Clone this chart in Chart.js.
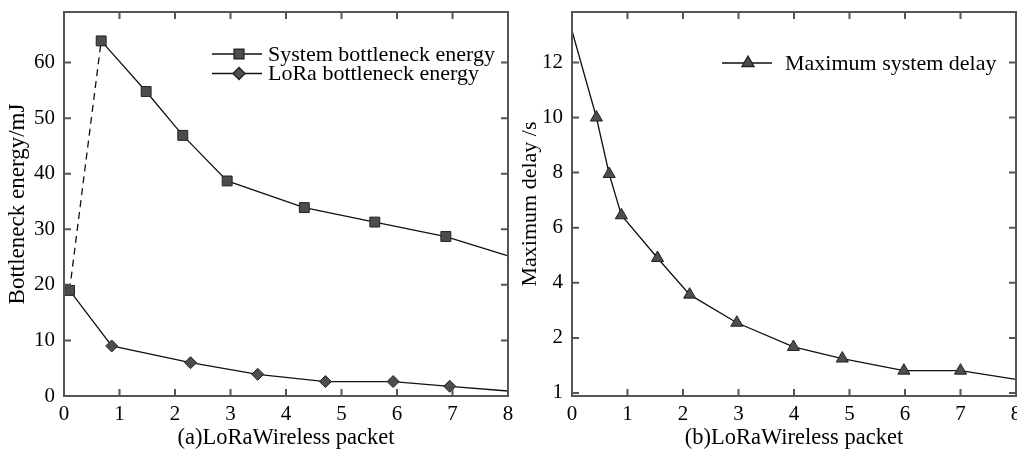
<!DOCTYPE html>
<html>
<head>
<meta charset="utf-8">
<script src="https://cdn.jsdelivr.net/npm/chart.js@4.4.1/dist/chart.umd.min.js"></script>
<style>
  html, body { margin: 0; padding: 0; background: #fff; }
  #wrap { position: relative; width: 1017px; height: 449px; overflow: hidden; }
  .box { position: absolute; top: 0; height: 449px; }
  #boxA { left: 0; width: 522px; }
  #boxB { left: 510px; width: 507px; }
</style>
</head>
<body>
<div id="wrap">
  <div class="box" id="boxA"><canvas id="chartA"></canvas></div>
  <div class="box" id="boxB"><canvas id="chartB"></canvas></div>
</div>
<script>
// (a) bottleneck energy
const packetSystem = [0.1, 0.67, 1.48, 2.14, 2.94, 4.33, 5.6, 6.88, 8];
const systemEnergy = [19, 63.9, 54.8, 46.9, 38.7, 33.9, 31.3, 28.7, 25.2];
const packetLoRa = [0.1, 0.86, 2.28, 3.49, 4.71, 5.93, 6.95, 8];
const loraEnergy = [19, 9.0, 6.0, 3.9, 2.6, 2.6, 1.75, 0.9];

// (b) maximum delay
const packetDelay = [0, 0.44, 0.67, 0.89, 1.54, 2.12, 2.97, 3.99, 4.87, 5.98, 7.0, 8];
const maxDelay = [13.15, 10.0, 7.95, 6.45, 4.9, 3.57, 2.55, 1.67, 1.25, 0.81, 0.81, 0.49];

const xTicks = [0, 1, 2, 3, 4, 5, 6, 7, 8];
const yTicksA = [0, 10, 20, 30, 40, 50, 60];
const yTicksB = [0, 2, 4, 6, 8, 10, 12];
const yLabelsB = ['1', '2', '4', '6', '8', '10', '12'];

const FONT = 'Liberation Serif';
const INK = '#111';
const MARK = '#4d4d4d';
const FRAME = '#555';

const toPoints = (xs, ys) => xs.map((x, i) => ({ x: x, y: ys[i] }));

// box around the plot with small inward ticks on every side
const framePlugin = {
    id: 'frame',
    afterDraw(chart) {
        const { ctx, chartArea: a, scales } = chart;
        const len = 7;
        ctx.save();
        ctx.strokeStyle = FRAME;
        ctx.lineWidth = 2;
        ctx.strokeRect(a.left, a.top, a.right - a.left, a.bottom - a.top);
        ctx.beginPath();
        scales.x.ticks.forEach(t => {
            const px = scales.x.getPixelForValue(t.value);
            if (px <= a.left + 1 || px >= a.right - 1) return;
            ctx.moveTo(px, a.bottom); ctx.lineTo(px, a.bottom - len);
            ctx.moveTo(px, a.top); ctx.lineTo(px, a.top + len);
        });
        scales.y.ticks.forEach(t => {
            const py = scales.y.getPixelForValue(t.value);
            if (py <= a.top + 1 || py >= a.bottom - 1) return;
            ctx.moveTo(a.left, py); ctx.lineTo(a.left + len, py);
            ctx.moveTo(a.right, py); ctx.lineTo(a.right - len, py);
        });
        ctx.stroke();
        ctx.restore();
    }
};

// legend drawn inside the plot: line - marker - line, then label
const lineLegend = {
    id: 'lineLegend',
    afterDraw(chart, args, opts) {
        const { ctx } = chart;
        ctx.save();
        chart.data.datasets.forEach((ds, i) => {
            const y = opts.y + i * opts.rowGap;
            ctx.strokeStyle = INK;
            ctx.lineWidth = 1.3;
            ctx.beginPath();
            ctx.moveTo(opts.x, y);
            ctx.lineTo(opts.x + opts.lineLen, y);
            ctx.stroke();
            ctx.fillStyle = MARK;
            ctx.strokeStyle = '#222';
            Chart.helpers.drawPoint(ctx, {
                pointStyle: ds.pointStyle, radius: ds.legendRadius, borderWidth: 1, rotation: 0
            }, opts.markX, y);
            ctx.fillStyle = '#000';
            ctx.font = '22px "' + FONT + '"';
            ctx.textBaseline = 'middle';
            ctx.textAlign = 'left';
            ctx.fillText(ds.label, opts.textX, y + 1);
        });
        ctx.restore();
    }
};

function axes(yMin, yMax, yTicks, yTitle, yTitleSize, yTitlePad, yAxisWidth, yLabels) {
    return {
        x: {
            type: 'linear', min: 0, max: 8,
            afterBuildTicks: s => { s.ticks = xTicks.map(v => ({ value: v })); },
            afterFit: s => { s.height = 53; s.paddingLeft = 0; s.paddingRight = 0; },
            grid: { display: false, drawTicks: false },
            border: { display: false },
            ticks: { color: '#000', padding: 6, font: { family: FONT, size: 21 } },
            title: {
                display: true, text: '', color: '#000',
                padding: { top: 0, bottom: 0 },
                font: { family: FONT, size: 22.5, lineHeight: 1 }
            }
        },
        y: {
            type: 'linear', min: yMin, max: yMax,
            afterBuildTicks: s => { s.ticks = yTicks.map(v => ({ value: v })); },
            afterFit: s => { s.width = yAxisWidth; s.paddingTop = 0; s.paddingBottom = 0; },
            grid: { display: false, drawTicks: false },
            border: { display: false },
            ticks: {
                color: '#000', padding: 9, font: { family: FONT, size: 21 },
                callback: (v, i) => yLabels ? yLabels[i] : String(v)
            },
            title: {
                display: true, text: yTitle, color: '#000',
                padding: { top: yTitlePad, bottom: 0 },
                font: { family: FONT, size: yTitleSize, lineHeight: 1 }
            }
        }
    };
}

const scalesA = axes(0, 69.1, yTicksA, 'Bottleneck energy/mJ', 23, 6, 64, null);
scalesA.x.title.text = '(a)LoRaWireless packet';

new Chart(document.getElementById('chartA'), {
    type: 'scatter',
    data: {
        datasets: [{
            label: 'System bottleneck energy',
            data: toPoints(packetSystem, systemEnergy),
            showLine: true,
            clip: 10,
            borderColor: INK,
            borderWidth: 1.3,
            pointStyle: 'rect',
            legendRadius: 7,
            pointRadius: systemEnergy.map((v, i) => i === systemEnergy.length - 1 ? 0 : 7),
            pointBackgroundColor: MARK,
            pointBorderColor: '#222',
            pointBorderWidth: 1,
            segment: { borderDash: c => c.p0DataIndex === 0 ? [7, 5] : undefined }
        }, {
            label: 'LoRa bottleneck energy',
            data: toPoints(packetLoRa, loraEnergy),
            showLine: true,
            clip: 10,
            borderColor: INK,
            borderWidth: 1.3,
            pointStyle: 'rectRot',
            legendRadius: 6,
            pointRadius: loraEnergy.map((v, i) => i === 0 || i === loraEnergy.length - 1 ? 0 : 6),
            pointBackgroundColor: MARK,
            pointBorderColor: '#222',
            pointBorderWidth: 1
        }]
    },
    options: {
        responsive: true,
        maintainAspectRatio: false,
        animation: false,
        layout: { autoPadding: false, padding: { left: 0, top: 12, right: 14, bottom: 0 } },
        scales: scalesA,
        plugins: {
            legend: { display: false },
            tooltip: { enabled: false },
            lineLegend: { x: 212, lineLen: 50, markX: 239, textX: 268, y: 54, rowGap: 19.5 }
        }
    },
    plugins: [framePlugin, lineLegend]
});

const scalesB = axes(-0.11, 13.83, yTicksB, 'Maximum delay /s', 22, 9, 62, yLabelsB);
scalesB.x.title.text = '(b)LoRaWireless packet';

new Chart(document.getElementById('chartB'), {
    type: 'scatter',
    data: {
        datasets: [{
            label: 'Maximum system delay',
            data: toPoints(packetDelay, maxDelay),
            showLine: true,
            clip: 10,
            borderColor: INK,
            borderWidth: 1.3,
            pointStyle: 'triangle',
            legendRadius: 7,
            pointRadius: maxDelay.map((v, i) => i === 0 || i === maxDelay.length - 1 ? 0 : 7),
            pointBackgroundColor: MARK,
            pointBorderColor: '#222',
            pointBorderWidth: 1
        }]
    },
    options: {
        responsive: true,
        maintainAspectRatio: false,
        animation: false,
        layout: { autoPadding: false, padding: { left: 0, top: 12, right: 1, bottom: 0 } },
        scales: scalesB,
        plugins: {
            legend: { display: false },
            tooltip: { enabled: false },
            lineLegend: { x: 212, lineLen: 50, markX: 238, textX: 275, y: 63, rowGap: 20 }
        }
    },
    plugins: [framePlugin, lineLegend]
});
</script>
</body>
</html>
